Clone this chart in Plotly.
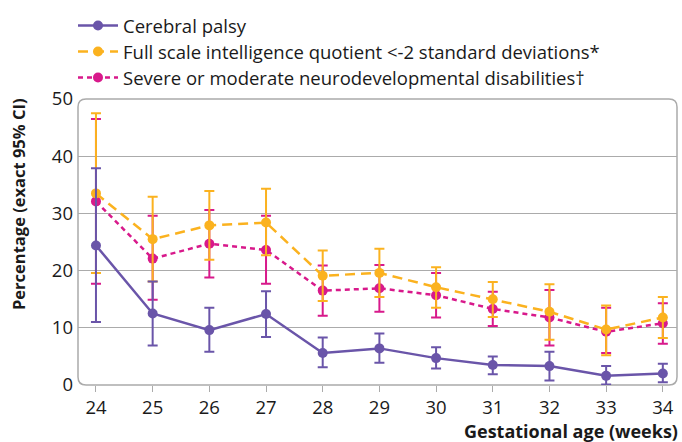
import plotly.graph_objects as go

weeks = [24, 25, 26, 27, 28, 29, 30, 31, 32, 33, 34]

cp = [24.4, 12.5, 9.6, 12.4, 5.6, 6.4, 4.7, 3.5, 3.3, 1.6, 2.0]
cp_hi = [37.9, 18.1, 13.5, 16.4, 8.3, 9.0, 6.6, 5.0, 5.8, 3.3, 3.7]
cp_lo = [11.0, 6.9, 5.8, 8.4, 3.1, 3.9, 2.9, 1.9, 0.8, 0.1, 0.5]

fsiq = [33.5, 25.5, 27.9, 28.4, 19.1, 19.6, 17.1, 15.0, 12.8, 9.7, 11.8]
fsiq_hi = [47.5, 32.9, 33.9, 34.3, 23.5, 23.8, 20.6, 18.0, 17.6, 13.9, 15.4]
fsiq_lo = [19.6, 18.1, 21.9, 22.7, 14.7, 15.4, 13.5, 11.9, 7.9, 5.2, 8.2]

sev = [32.1, 22.1, 24.7, 23.6, 16.5, 16.9, 15.7, 13.3, 11.8, 9.3, 10.8]
sev_hi = [46.5, 29.6, 30.6, 29.6, 20.9, 21.0, 19.6, 16.3, 16.6, 13.5, 14.3]
sev_lo = [17.7, 14.9, 18.8, 17.7, 12.1, 12.8, 11.8, 10.3, 6.9, 5.6, 7.2]

names = [
    "Cerebral palsy",
    "Full scale intelligence quotient <-2 standard deviations*",
    "Severe or moderate neurodevelopmental disabilities\u2020",
]
colors = ["#6A55A9", "#FBB21F", "#D8198B"]
dashes = ["solid", "10px,6px", "5px,4px"]
legend_ids = ["legend", "legend2", "legend3"]

FONT = "Open Sans"

L, R, T, B = 78, 5, 99, 57
W, H = 682, 442
pw, ph = W - L - R, H - T - B
legend_rows_px = [26, 52, 78]

fig = go.Figure()
series = [(cp, cp_hi, cp_lo), (fsiq, fsiq_hi, fsiq_lo), (sev, sev_hi, sev_lo)]
order = [2, 1, 0]
for i in order:
    v, hi, lo = series[i]
    fig.add_trace(go.Scatter(
        x=weeks, y=v, name=names[i], mode="lines+markers",
        legend=legend_ids[i],
        line=dict(color=colors[i], width=2.5, dash=dashes[i]),
        marker=dict(color=colors[i], size=10),
        error_y=dict(type="data", symmetric=False,
                     array=[h - m for h, m in zip(hi, v)],
                     arrayminus=[m - l for m, l in zip(v, lo)],
                     color=colors[i], thickness=2, width=5),
    ))

rx, ry = 8 / pw, 8 / ph
path = (f"M {rx} 0 L {1-rx} 0 Q 1 0 1 {ry} L 1 {1-ry} Q 1 1 {1-rx} 1 "
        f"L {rx} 1 Q 0 1 0 {1-ry} L 0 {ry} Q 0 0 {rx} 0 Z")
fig.add_shape(type="path", path=path, xref="paper", yref="paper",
              line=dict(color="#ABABAB", width=1.5), layer="below")

legend_common = dict(xanchor="left", yanchor="middle", font=dict(size=18.5),
                     bgcolor="rgba(0,0,0,0)", itemwidth=40)
legends = {}
for lid, ypx in zip(legend_ids, legend_rows_px):
    legends[lid] = dict(x=(73 - L) / pw, y=(H - B - ypx) / ph, **legend_common)

fig.update_layout(
    width=W, height=H,
    margin=dict(l=L, r=R, t=T, b=B),
    plot_bgcolor="white", paper_bgcolor="white",
    font=dict(family=FONT, size=18, color="#1a1a1a"),
    showlegend=True,
    **legends,
    xaxis=dict(range=[23.683, 34.25], tickvals=weeks, showgrid=False,
               zeroline=False, showline=False, ticks="outside", ticklen=6,
               tickcolor="#ABABAB", tickwidth=1.2, tickfont=dict(size=18.5)),
    yaxis=dict(range=[0, 50], tickvals=[0, 10, 20, 30, 40, 50],
               showgrid=True, gridcolor="#ABABAB", gridwidth=1,
               zeroline=False, showline=False, ticks="", ticklabelstandoff=4,
               tickfont=dict(size=18.5)),
    annotations=[
        dict(text="<b>Percentage (exact 95% CI)</b>", textangle=-90,
             xref="paper", yref="paper", x=-(L - 18) / pw, y=(385 - 204) / ph,
             xanchor="center", yanchor="middle", showarrow=False,
             font=dict(size=16.5)),
        dict(text="<b>Gestational age (weeks)</b>", xref="paper", yref="paper",
             x=1 + 3 / pw, y=-(431 - 385) / ph, xanchor="right",
             yanchor="middle", showarrow=False, font=dict(size=18)),
    ],
)

fig.write_html("out.html", config={"displayModeBar": False},
               post_script="document.body.style.margin='0';")
